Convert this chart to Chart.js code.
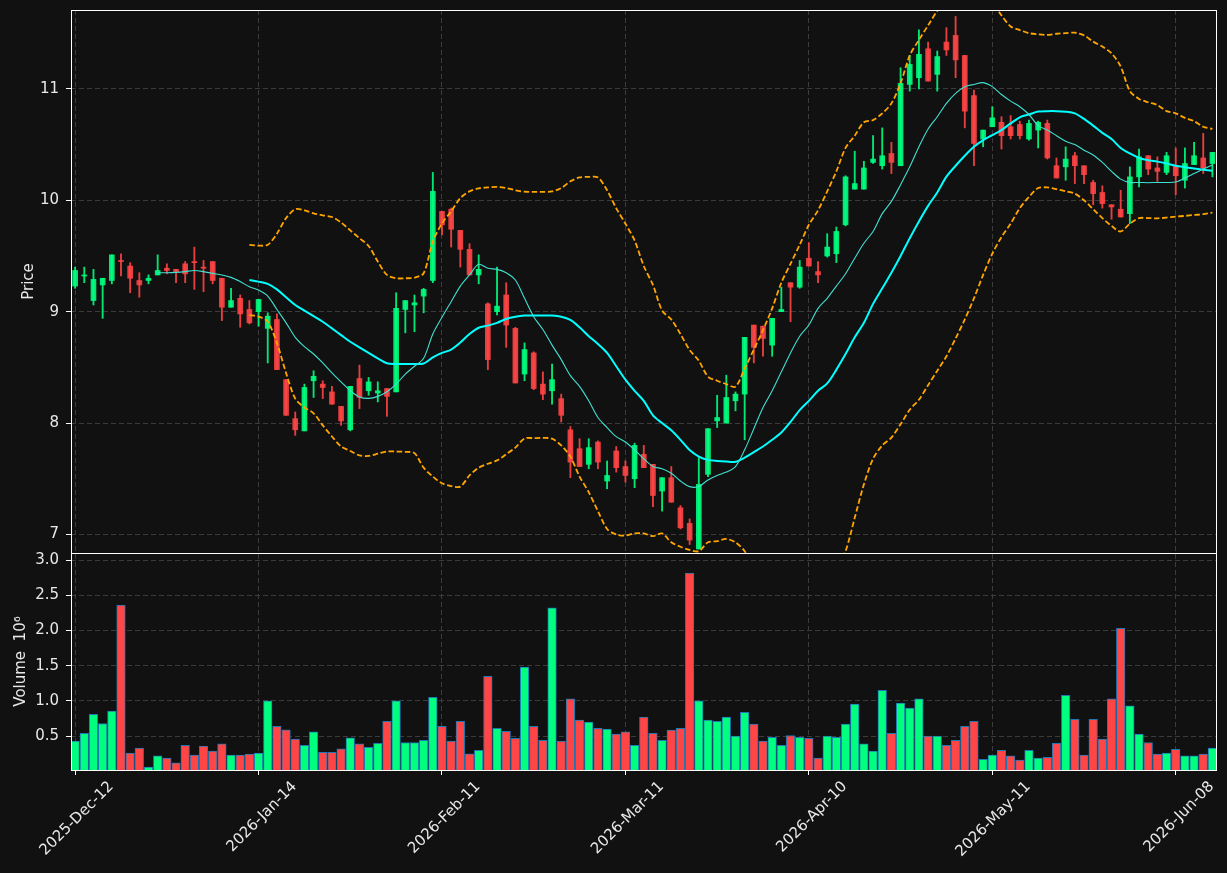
<!DOCTYPE html>
<html>
<head>
<meta charset="utf-8">
<script src="https://cdn.jsdelivr.net/npm/chart.js@4.4.1/dist/chart.umd.min.js"></script>
<style>
  html, body { margin: 0; padding: 0; background: #111111; }
  canvas { display: block; }
</style>
</head>
<body>
<canvas id="chart" width="1227" height="873"></canvas>
<script>
// daily OHLC, one entry per trading session (index 0 = 2025-Dec-12)
const opens = [9.23,9.32,9.10,9.24,9.28,9.46,9.41,9.28,9.28,9.33,9.39,9.38,9.43,9.45,9.40,9.45,9.30,9.04,9.12,9.02,
  9.00,8.85,8.93,8.39,8.04,7.93,8.38,8.35,8.28,8.15,7.94,8.40,8.29,8.27,8.31,8.28,9.02,9.06,9.14,9.28,
  9.90,9.92,9.73,9.56,9.33,9.07,9.00,9.15,8.85,8.44,8.63,8.35,8.29,8.22,7.94,7.77,7.63,7.83,7.48,7.75,
  7.61,7.50,7.72,7.63,7.39,7.51,7.24,7.10,6.87,7.54,8.02,8.00,8.20,8.26,8.88,8.87,8.70,9.00,9.26,9.22,
  9.48,9.36,9.50,9.52,9.78,10.10,10.10,10.34,10.31,10.42,10.31,11.04,11.10,11.36,11.13,11.42,11.48,11.30,10.94,10.55,
  10.66,10.70,10.66,10.68,10.55,10.63,10.69,10.31,10.30,10.40,10.31,10.16,10.07,9.96,9.92,9.88,10.21,10.40,10.29,10.25,
  10.31,10.18,10.32,10.38,10.33];
const highs = [9.40,9.40,9.38,9.30,9.51,9.52,9.44,9.35,9.33,9.51,9.43,9.38,9.45,9.58,9.46,9.45,9.30,9.21,9.15,9.10,
  9.11,8.99,8.98,8.39,8.10,8.35,8.47,8.38,8.33,8.15,8.33,8.52,8.41,8.37,8.31,9.17,9.10,9.15,9.21,10.25,
  9.90,9.93,9.73,9.61,9.51,9.08,9.40,9.26,8.86,8.72,8.64,8.46,8.53,8.26,7.97,7.86,7.86,7.84,7.66,7.79,
  7.66,7.82,7.80,7.63,7.51,7.61,7.26,7.14,7.69,7.95,8.25,8.43,8.28,8.77,8.88,8.87,8.94,9.22,9.26,9.46,
  9.62,9.45,9.70,9.76,10.22,10.44,10.35,10.58,10.65,10.52,11.19,11.30,11.53,11.42,11.34,11.55,11.65,11.30,10.99,10.63,
  10.84,10.75,10.76,10.71,10.72,10.71,10.72,10.38,10.48,10.43,10.31,10.18,10.13,9.96,10.09,10.30,10.46,10.40,10.39,10.43,
  10.47,10.47,10.52,10.60,10.43];
const lows = [9.21,9.26,9.06,8.94,9.25,9.32,9.17,9.13,9.25,9.33,9.34,9.26,9.26,9.20,9.18,9.25,8.92,9.04,8.86,8.89,
  8.87,8.54,8.48,8.07,7.89,7.93,8.23,8.22,8.17,7.98,7.93,8.13,8.25,8.19,8.06,8.28,8.81,8.82,8.99,9.26,
  9.69,9.58,9.40,9.33,9.25,8.48,8.97,8.68,8.36,8.38,8.30,8.21,8.17,8.01,7.51,7.61,7.59,7.59,7.41,7.56,
  7.47,7.42,7.60,7.25,7.21,7.29,7.05,6.91,6.87,7.52,7.96,8.00,8.11,7.85,8.54,8.60,8.60,9.00,8.91,9.21,
  9.41,9.26,9.49,9.44,9.77,10.10,10.10,10.33,10.28,10.24,10.31,10.98,11.00,11.07,10.98,11.30,11.10,10.65,10.31,10.48,
  10.66,10.46,10.55,10.55,10.54,10.47,10.37,10.20,10.18,10.15,10.15,9.96,9.93,9.83,9.85,9.79,10.12,10.23,10.17,10.23,
  10.05,10.11,10.32,10.24,10.21];
const closes = [9.37,9.33,9.29,9.30,9.51,9.45,9.30,9.24,9.30,9.37,9.37,9.36,9.34,9.44,9.39,9.28,9.04,9.10,8.98,8.90,
  9.11,8.96,8.48,8.07,7.94,8.32,8.42,8.32,8.17,8.02,8.33,8.23,8.37,8.29,8.24,9.03,9.10,9.08,9.20,10.08,
  9.78,9.74,9.56,9.33,9.38,8.57,9.05,8.88,8.36,8.66,8.31,8.26,8.39,8.07,7.65,7.61,7.78,7.65,7.53,7.60,
  7.53,7.80,7.60,7.35,7.51,7.29,7.06,6.95,7.45,7.95,8.05,8.23,8.26,8.77,8.68,8.76,8.94,9.02,9.22,9.40,
  9.41,9.33,9.58,9.72,10.21,10.15,10.29,10.37,10.40,10.34,11.05,11.22,11.31,11.07,11.29,11.35,11.26,10.80,10.51,10.63,
  10.74,10.58,10.58,10.58,10.69,10.70,10.38,10.20,10.37,10.31,10.23,10.06,9.97,9.94,9.85,10.21,10.39,10.28,10.26,10.40,
  10.22,10.33,10.40,10.29,10.43];
// volume in millions
const volumes = [0.43,0.54,0.81,0.68,0.855,2.36,0.26,0.33,0.06,0.22,0.19,0.12,0.37,0.23,0.36,0.29,0.39,0.23,0.23,0.245,
  0.26,1.00,0.64,0.59,0.46,0.37,0.56,0.27,0.27,0.32,0.475,0.39,0.34,0.40,0.71,1.00,0.41,0.41,0.44,1.05,
  0.64,0.43,0.71,0.25,0.30,1.35,0.61,0.57,0.47,1.48,0.64,0.44,2.32,0.43,1.03,0.73,0.70,0.61,0.60,0.53,
  0.56,0.37,0.77,0.54,0.44,0.585,0.61,2.815,1.00,0.73,0.71,0.77,0.50,0.84,0.67,0.43,0.485,0.37,0.51,0.485,
  0.47,0.19,0.50,0.485,0.67,0.955,0.39,0.29,1.15,0.54,0.97,0.90,1.03,0.50,0.50,0.37,0.44,0.64,0.71,0.17,
  0.23,0.30,0.22,0.16,0.30,0.19,0.20,0.40,1.08,0.74,0.23,0.74,0.46,1.03,2.03,0.93,0.53,0.41,0.245,0.26,
  0.315,0.22,0.22,0.245,0.33];

// overlays; first value sits at the given index
const maFastStart = 9;
const maFast = [9.35,9.35,9.353,9.36,9.37,9.36,9.344,9.33,9.308,9.27,9.224,9.194,9.14,9.02,8.90,8.77,8.686,8.62,8.54,8.45,
  8.37,8.29,8.235,8.222,8.24,8.282,8.35,8.44,8.51,8.582,8.80,8.95,9.09,9.23,9.33,9.425,9.39,9.38,9.35,9.284,
  9.12,8.955,8.84,8.70,8.57,8.426,8.33,8.20,8.05,7.96,7.878,7.83,7.76,7.68,7.61,7.59,7.55,7.48,7.43,7.43,
  7.49,7.53,7.56,7.61,7.76,7.95,8.14,8.29,8.46,8.63,8.78,8.88,9.03,9.12,9.23,9.34,9.48,9.614,9.72,9.88,
  9.99,10.14,10.30,10.48,10.64,10.75,10.87,10.96,11.02,11.04,11.056,11.02,10.95,10.89,10.84,10.77,10.67,10.63,10.58,10.53,
  10.50,10.45,10.407,10.34,10.26,10.19,10.16,10.16,10.158,10.16,10.16,10.164,10.20,10.24,10.28,10.317];
const maSlowStart = 19;
const maSlow = [9.285,9.27,9.25,9.20,9.13,9.06,9.01,8.96,8.91,8.85,8.79,8.73,8.68,8.63,8.58,8.537,8.53,8.53,8.53,8.535,
  8.59,8.63,8.66,8.723,8.80,8.856,8.875,8.90,8.935,8.955,8.965,8.965,8.965,8.965,8.955,8.926,8.86,8.78,8.71,8.63,
  8.51,8.39,8.29,8.20,8.07,8.00,7.935,7.85,7.758,7.70,7.67,7.66,7.655,7.653,7.69,7.74,7.79,7.85,7.915,8.01,
  8.117,8.20,8.29,8.356,8.48,8.62,8.77,8.90,9.07,9.21,9.35,9.50,9.66,9.81,9.95,10.07,10.212,10.31,10.40,10.48,
  10.54,10.585,10.63,10.69,10.745,10.77,10.796,10.80,10.80,10.795,10.78,10.73,10.67,10.605,10.55,10.47,10.42,10.38,10.36,10.347,
  10.33,10.31,10.297,10.285,10.275,10.266];
const bandStart = 19;
const bandUpper = [9.60,9.593,9.60,9.70,9.84,9.92,9.91,9.883,9.865,9.85,9.80,9.73,9.66,9.59,9.45,9.33,9.30,9.30,9.306,9.345,
  9.63,9.793,9.90,10.02,10.08,10.107,10.115,10.12,10.11,10.09,10.077,10.075,10.075,10.08,10.11,10.17,10.205,10.21,10.205,10.09,
  9.928,9.79,9.64,9.41,9.24,9.01,8.93,8.80,8.656,8.56,8.417,8.38,8.35,8.327,8.49,8.66,8.835,9.03,9.26,9.43,
  9.60,9.78,9.91,10.08,10.26,10.47,10.58,10.70,10.72,10.78,10.87,11.05,11.30,11.439,11.57,11.70,11.80,11.87,11.90,11.90,
  11.86,11.78,11.66,11.56,11.528,11.50,11.49,11.485,11.495,11.50,11.504,11.48,11.424,11.38,11.32,11.20,10.98,10.91,10.88,10.855,
  10.80,10.78,10.74,10.71,10.66,10.64];
const bandLower = [8.97,8.956,8.91,8.72,8.45,8.22,8.14,8.088,7.98,7.88,7.79,7.75,7.71,7.705,7.725,7.745,7.745,7.742,7.73,7.60,
  7.52,7.46,7.435,7.43,7.53,7.60,7.635,7.665,7.72,7.78,7.862,7.865,7.867,7.86,7.80,7.699,7.52,7.38,7.21,7.05,
  7.00,6.99,7.01,7.01,6.985,7.01,6.93,6.89,6.862,6.85,6.93,6.94,6.96,6.93,6.85,6.70,6.55,6.40,6.30,6.25,
  6.25,6.30,6.40,6.55,6.70,6.85,7.15,7.45,7.68,7.80,7.87,7.99,8.12,8.21,8.34,8.47,8.60,8.76,8.93,9.12,
  9.33,9.52,9.67,9.79,9.93,10.03,10.11,10.115,10.10,10.08,10.06,10.00,9.92,9.84,9.77,9.72,9.79,9.84,9.84,9.838,
  9.845,9.853,9.86,9.868,9.875,9.889];

const tickIdx = [0, 20, 40, 60, 80, 100, 120];
const tickLabels = ['2025-Dec-12', '2026-Jan-14', '2026-Feb-11', '2026-Mar-11', '2026-Apr-10', '2026-May-11', '2026-Jun-08'];
const priceTicks = [7, 8, 9, 10, 11];
const volTicks = [0.5, 1.0, 1.5, 2.0, 2.5, 3.0];

const upCol = '#00ff7f', downCol = '#ff4545';
const upBody = 'rgba(0,255,127,0.9)', downBody = 'rgba(255,69,69,0.9)';
const isUp = i => closes[i] >= opens[i];

const series = (arr, start) => arr.map((v, k) => ({x: start + k, y: v}));

const txt = '#e8e8e8';
const gridCol = '#3c3c3c';
const font = {family: 'DejaVu Sans', size: 15};

const bgPlugin = {
  id: 'bg',
  beforeDraw(chart) {
    const c = chart.ctx;
    c.save();
    c.fillStyle = '#111111';
    c.fillRect(0, 0, chart.width, chart.height);
    c.restore();
  }
};

// box around each panel, like the matplotlib spines
const framePlugin = {
  id: 'frame',
  afterDatasetsDraw(chart) {
    const c = chart.ctx, x = chart.scales.x;
    c.save();
    c.strokeStyle = '#ffffff';
    c.lineWidth = 1;
    ['y', 'yv'].forEach(id => {
      const s = chart.scales[id];
      c.strokeRect(Math.round(x.left) + 0.5, Math.round(s.top) + 0.5,
        Math.round(x.right - x.left) - 1, Math.round(s.bottom - s.top));
    });
    c.restore();
  }
};

const noPad = s => { s.paddingTop = 0; s.paddingBottom = 0; s.width = 71; };

new Chart(document.getElementById('chart'), {
  type: 'bar',
  data: {
    datasets: [
      {type: 'line', data: series(maFast, maFastStart), borderColor: '#40e0d0', borderWidth: 1.1,
        pointRadius: 0, tension: 0.3, yAxisID: 'y'},
      {type: 'line', data: series(maSlow, maSlowStart), borderColor: '#00ffff', borderWidth: 2,
        pointRadius: 0, tension: 0.3, yAxisID: 'y'},
      {type: 'line', data: series(bandUpper, bandStart), borderColor: '#ffa500', borderWidth: 1.8,
        borderDash: [5.5, 2.6], pointRadius: 0, tension: 0.3, yAxisID: 'y'},
      {type: 'line', data: series(bandLower, bandStart), borderColor: '#ffa500', borderWidth: 1.8,
        borderDash: [5.5, 2.6], pointRadius: 0, tension: 0.3, yAxisID: 'y'},
      {data: opens.map((o, i) => ({x: i, y: [o, closes[i]]})), yAxisID: 'y',
        backgroundColor: ctx => isUp(ctx.dataIndex) ? upBody : downBody,
        barThickness: 5, grouped: false},
      {data: lows.map((l, i) => ({x: i, y: [l, highs[i]]})), yAxisID: 'y',
        backgroundColor: ctx => isUp(ctx.dataIndex) ? upBody : downBody,
        barThickness: 1.2, grouped: false},
      {data: volumes.map((v, i) => ({x: i, y: v})), yAxisID: 'yv',
        backgroundColor: ctx => isUp(ctx.dataIndex) ? upCol : downCol,
        borderColor: '#1f77b4', borderWidth: 1, barThickness: 8.6, grouped: false}
    ]
  },
  options: {
    responsive: false,
    animation: false,
    devicePixelRatio: 1,
    layout: {padding: {left: 0, right: 10, top: 10, bottom: 0}},
    plugins: {legend: {display: false}, tooltip: {enabled: false}},
    scales: {
      x: {
        type: 'linear', position: 'bottom', min: -0.45, max: 124.5, offset: false,
        afterBuildTicks: s => { s.ticks = tickIdx.map(v => ({value: v})); },
        afterFit: s => { s.height = 103; s.paddingLeft = 0; s.paddingRight = 0; },
        ticks: {color: txt, font: font, minRotation: 45, maxRotation: 45, autoSkip: false, padding: 3,
          labelOffset: 36, callback: v => tickLabels[tickIdx.indexOf(v)]},
        grid: {offset: false, color: gridCol, tickColor: '#ffffff', tickLength: 5, tickBorderDash: []},
        border: {display: false, dash: [5, 3]}
      },
      y: {
        type: 'linear', position: 'left', stack: 'panels', stackWeight: 543, weight: 2,
        min: 6.834, max: 11.708,
        afterBuildTicks: s => { s.ticks = priceTicks.map(v => ({value: v})); },
        afterFit: noPad,
        ticks: {color: txt, font: font, padding: 7},
        grid: {color: gridCol, tickColor: '#ffffff', tickLength: 5, tickBorderDash: []},
        border: {display: false, dash: [5, 3]},
        title: {display: true, text: 'Price', color: txt, font: font, padding: {top: 20, bottom: 0}}
      },
      yv: {
        type: 'linear', position: 'left', stack: 'panels', stackWeight: 217, weight: 1,
        min: 0.02, max: 3.10,
        afterBuildTicks: s => { s.ticks = volTicks.map(v => ({value: v})); },
        afterFit: noPad,
        ticks: {color: txt, font: font, padding: 7, callback: v => v.toFixed(1)},
        grid: {color: gridCol, tickColor: '#ffffff', tickLength: 5, tickBorderDash: []},
        border: {display: false, dash: [5, 3]},
        title: {display: true, text: 'Volume  10\u2076', color: txt, font: font, padding: {top: 12, bottom: 0}}
      }
    }
  },
  plugins: [bgPlugin, framePlugin]
});
</script>
</body>
</html>
